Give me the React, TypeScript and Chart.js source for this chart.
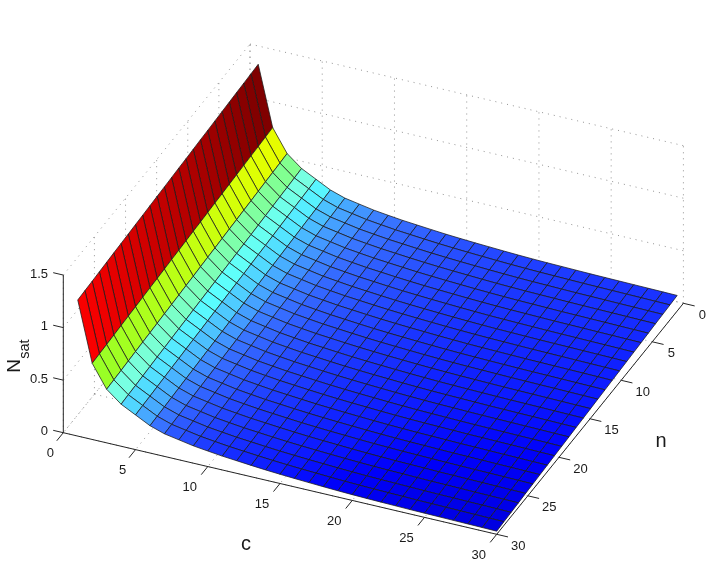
import React, { useEffect, useRef } from "react";
import { Chart, registerables } from "chart.js";

Chart.register(...registerables);

// Surface grid nodes
const cValues = [1,2,3,4,5,6,7,8,9,10,11,12,13,14,15,16,17,18,19,20,21,22,23,24,25,26,27,28,29,30];
const nValues = [1,2.16,3.32,4.48,5.64,6.8,7.96,9.12,10.28,11.44,12.6,13.76,14.92,16.08,17.24,18.4,19.56,20.72,21.88,23.04,24.2,25.36,26.52,27.68,28.84,30];
// N_sat read along the front (large n) edge, for each c
const nsatAlongC = [1.295,0.725,0.51,0.40,0.33,0.26,0.215,0.19,0.165,0.148,0.132,0.12,0.108,0.097,0.088,0.08,0.073,0.066,0.06,0.055,0.051,0.048,0.045,0.042,0.04,0.038,0.036,0.034,0.032,0.03];
// rise of N_sat above that edge, for each n node
const riseAlongN = [0.118,0.113,0.108,0.104,0.099,0.094,0.089,0.084,0.08,0.075,0.07,0.066,0.061,0.056,0.052,0.047,0.042,0.038,0.033,0.028,0.024,0.019,0.014,0.009,0.005,0];

const cTicks = [0,5,10,15,20,25,30];
const nTicks = [0,5,10,15,20,25,30];
const zTicks = [0,0.5,1,1.5];
const zTickLabels = ["0","0.5","1","1.5"];

// colour ramp: N_sat level -> rgb
const rampLevels = [0.03,0.07,0.10,0.15,0.26,0.33,0.40,0.46,0.52,0.63,0.725,0.84,1.295,1.41];
const rampColors = [[0,0,220],[0,0,250],[12,25,255],[25,50,255],[55,110,255],[70,165,255],[80,210,255],[90,255,255],[120,255,225],[130,255,140],[150,255,40],[230,255,0],[255,0,0],[128,0,0]];

// view projection (screen px per data unit)
const W = 711, H = 563;
const back = { x: 250, y: 201.7 };
const perC = { x: 14.447, y: 3.387 };
const perN = { x: -6.223, y: 7.7 };
const perZ = { x: 0, y: -105.1 };

const project = (c: number, n: number, z: number) => ({
  x: back.x + c * perC.x + n * perN.x + z * perZ.x,
  y: back.y + c * perC.y + n * perN.y + z * perZ.y,
});

const rampColor = (z: number) => {
  let i = 0;
  while (i < rampLevels.length - 2 && z > rampLevels[i + 1]) i++;
  const t = Math.max(0, Math.min(1, (z - rampLevels[i]) / (rampLevels[i + 1] - rampLevels[i])));
  const a = rampColors[i], b = rampColors[i + 1];
  return `rgb(${a.map((v, k) => Math.round(v + (b[k] - v) * t)).join(",")})`;
};

const lineDs = (pts: { x: number; y: number }[], color: string, width: number, dash: number[] = []) => ({
  type: "scatter" as const,
  data: pts,
  showLine: true,
  borderColor: color,
  borderWidth: width,
  borderDash: dash,
  pointRadius: 0,
  fill: false,
  tension: 0,
  clip: false as const,
});

const buildDatasets = () => {
  const paint: any[] = [];
  const gridColor = "#777";
  const dots = [1, 5];
  const gridLine = (a: number[], b: number[]) =>
    paint.push(lineDs([project(a[0], a[1], a[2]), project(b[0], b[1], b[2])], gridColor, 0.8, dots));

  const zTop = zTicks[zTicks.length - 1];
  const cMax = cTicks[cTicks.length - 1];
  const nMax = nTicks[nTicks.length - 1];
  for (const z of zTicks) {
    gridLine([0, nMax, z], [0, 0, z]);
    gridLine([0, 0, z], [cMax, 0, z]);
  }
  for (const n of nTicks) {
    gridLine([0, n, 0], [0, n, zTop]);
    gridLine([0, n, 0], [cMax, n, 0]);
  }
  for (const c of cTicks) {
    gridLine([c, 0, 0], [c, 0, zTop]);
    gridLine([c, 0, 0], [c, nMax, 0]);
  }

  // axes and ticks
  const ink = "#262626";
  const seg = (a: number[], b: number[]) =>
    paint.push(lineDs([project(a[0], a[1], a[2]), project(b[0], b[1], b[2])], ink, 1));
  seg([0, nMax, 0], [0, nMax, zTop]);
  seg([0, nMax, 0], [cMax, nMax, 0]);
  seg([cMax, nMax, 0], [cMax, 0, 0]);
  for (const z of zTicks) seg([0, nMax, z], [-0.7, nMax, z]);
  for (const c of cTicks) seg([c, nMax, 0], [c, nMax + 1.05, 0]);
  for (const n of nTicks) seg([cMax, n, 0], [cMax + 0.78, n, 0]);

  // surface cells
  const height = (ci: number, ni: number) => nsatAlongC[ci] + riseAlongN[ni];
  for (let ni = 0; ni < nValues.length - 1; ni++) {
    for (let ci = 0; ci < cValues.length - 1; ci++) {
      const corner = (i: number, j: number) => project(cValues[i], nValues[j], height(i, j));
      const ds = lineDs(
        [corner(ci, ni), corner(ci + 1, ni), corner(ci + 1, ni + 1), corner(ci, ni + 1), corner(ci, ni)],
        "#1a1a1a",
        0.75
      );
      (ds as any).fill = "shape";
      (ds as any).backgroundColor = rampColor(height(ci, ni));
      paint.push(ds);
    }
  }
  return paint.reverse();
};

const textPlugin = {
  id: "axisText",
  afterDraw(chart: any) {
    const { ctx } = chart;
    const sx = (v: number) => chart.scales.x.getPixelForValue(v);
    const sy = (v: number) => chart.scales.y.getPixelForValue(v);
    const font = (s: number) => `${s}px "Liberation Sans", Arial, sans-serif`;
    ctx.save();
    ctx.fillStyle = "#1a1a1a";
    ctx.textBaseline = "middle";
    ctx.font = font(13);

    ctx.textAlign = "right";
    zTicks.forEach((z, i) => {
      const p = project(0, nTicks[nTicks.length - 1], z);
      ctx.fillText(zTickLabels[i], sx(p.x - 15.3), sy(p.y - 1));
    });
    ctx.textAlign = "center";
    for (const c of cTicks) {
      const p = project(c, nTicks[nTicks.length - 1], 0);
      ctx.fillText(String(c), sx(p.x + (c < 10 ? -13 : -18)), sy(p.y + 21));
    }
    for (const n of nTicks) {
      const p = project(cTicks[cTicks.length - 1], n, 0);
      ctx.fillText(String(n), sx(p.x + (n < 10 ? 19 : 21.5)), sy(p.y + 12));
    }

    ctx.font = font(20);
    ctx.fillText("c", sx(246), sy(544));
    ctx.fillText("n", sx(661), sy(441));

    ctx.translate(sx(20), sy(372.7));
    ctx.rotate(-Math.PI / 2);
    ctx.textAlign = "left";
    ctx.textBaseline = "alphabetic";
    ctx.font = font(19);
    ctx.fillText("N", 0, 0);
    ctx.font = font(14.5);
    ctx.fillText("sat", 14, 9);
    ctx.restore();
  },
};

export default function App() {
  const ref = useRef<HTMLCanvasElement>(null);
  useEffect(() => {
    const chart = new Chart(ref.current as HTMLCanvasElement, {
      type: "scatter",
      data: { datasets: buildDatasets() },
      options: {
        animation: false,
        responsive: false,
        layout: { padding: 0 },
        parsing: false,
        plugins: { legend: { display: false }, tooltip: { enabled: false } },
        scales: {
          x: { type: "linear", display: false, min: 0, max: W },
          y: { type: "linear", display: false, min: 0, max: H, reverse: true },
        },
      } as any,
      plugins: [textPlugin],
    });
    return () => chart.destroy();
  }, []);
  return (
    <div style={{ position: "fixed", left: 0, top: 0, width: W, height: H, background: "#fff" }}>
      <canvas ref={ref} width={W} height={H} style={{ display: "block" }} />
    </div>
  );
}
